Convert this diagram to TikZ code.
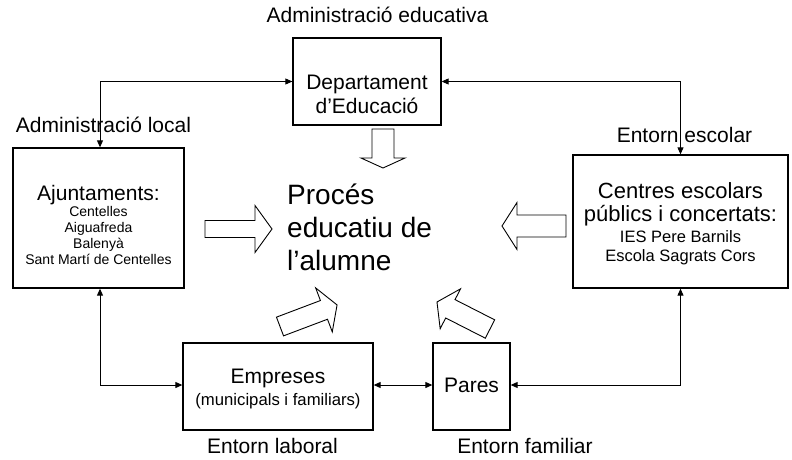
\documentclass[tikz,border=0pt]{standalone}
\usepackage{fontspec}
\setmainfont{Liberation Sans}
\usetikzlibrary{arrows.meta}

\tikzset{
  box/.style={draw, line width=1.3pt, inner sep=0pt},
  txt/.style={inner sep=0pt, align=center, font=\fontsize{21}{24}\selectfont},
  link/.style={line width=0.9pt, {Triangle[length=7pt,width=6pt]}-{Triangle[length=7pt,width=6pt]}},
  fatline/.style={line width=0.9pt, fill=white, line join=miter},
  pics/fatarrow/.style n args={4}{code={
    \draw[fatline] (0,-#2) -- (#1-#4,-#2) -- (#1-#4,-#3) -- (#1,0)
      -- (#1-#4,#3) -- (#1-#4,#2) -- (0,#2) -- cycle;
  }}
}

\begin{document}
\begin{tikzpicture}[x=1pt,y=1pt]
    \useasboundingbox (0,0) rectangle (792,459);

    % Define boxes
    \node[box, minimum width=148, minimum height=87]	(dep)		at (367,377.5) {};
    \node[box, minimum width=171, minimum height=140]	(ajunt)		at (98.5,241) {};
    \node[box, minimum width=215, minimum height=133]	(centres)	at (680.5,237.5) {};
    \node[box, minimum width=190, minimum height=87]	(empreses)	at (278,72.5) {};
    \node[box, minimum width=77, minimum height=87]	(pares)		at (471.5,72.5) {};

    % Box texts
    \node[txt] at ([yshift=-13]dep.center) {Departament\\d’Educació};
    \node[txt, font=\fontsize{14}{16}\selectfont] at ([yshift=-6.5]ajunt.center)
        {{\fontsize{21}{24}\selectfont Ajuntaments:}\\Centelles\\Aiguafreda\\Balenyà\\Sant Martí de Centelles};
    \node[txt, font=\fontsize{16.5}{19}\selectfont] at ([yshift=-2]centres.center)
        {{\fontsize{22}{24}\selectfont Centres escolars}\\[4pt]{\fontsize{22}{24}\selectfont públics i concertats:}\\[2pt]IES Pere Barnils\\Escola Sagrats Cors};
    \node[txt, font=\fontsize{16.7}{22}\selectfont] at ([yshift=-2.5]empreses.center)
        {{\fontsize{21}{24}\selectfont Empreses}\\(municipals i familiars)};
    \node[txt] at ([yshift=1]pares.center) {Pares};

    % Central text
    \node[txt, align=left, anchor=west, font=\fontsize{28}{33}\selectfont] (proces) at (287,232)
        {Procés\\educatiu de\\l’alumne};

    % Labels
    \node[txt, anchor=base] (lbledu)	at (377.5,436) {Administració educativa};
    \node[txt, anchor=base] (lblloc)	at (103.5,327) {Administració local};
    \node[txt, anchor=base] (lblesc)	at (684.5,317) {Entorn escolar};
    \node[txt, anchor=base] (lbllab)	at (272.5,6) {Entorn laboral};
    \node[txt, anchor=base] (lblfam)	at (525,6) {Entorn familiar};

    % Connect boxes
    \draw[link] ([xshift=1.5]ajunt.north) |- (dep.west);
    \draw[link] (dep.east) -| (centres.north);
    \draw[link] ([xshift=1.5]ajunt.south) |- ([yshift=1.5]empreses.west);
    \draw[link] ([yshift=1.5]empreses.east) -- ([yshift=1.5]pares.west);
    \draw[link] ([yshift=1.5]pares.east) -| (centres.south);

    % Block arrows
    \pic[rotate=-90] at (383,330) {fatarrow={39}{11}{22}{10}};
    \pic at (205,230) {fatarrow={67}{8.5}{23.5}{17}};
    \pic[rotate=180] at (566,233) {fatarrow={64}{11}{23.5}{15}};
    \pic[rotate=20.7] at (280,132.5) {fatarrow={61}{10}{23.5}{14}};
    \pic[rotate=153] at (490,130) {fatarrow={59.5}{10.3}{22.4}{15}};
\end{tikzpicture}
\end{document}
